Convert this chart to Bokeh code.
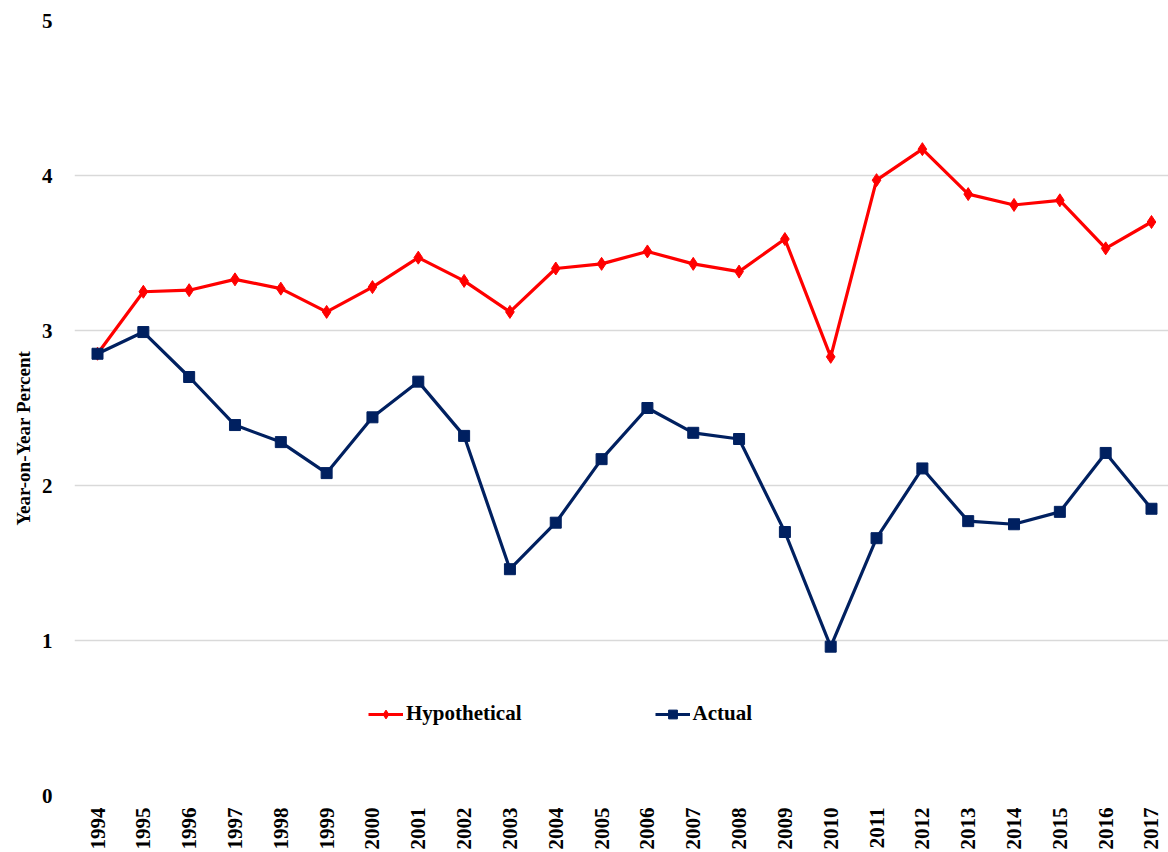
import math
from bokeh.plotting import figure
from bokeh.models import (ColumnDataSource, FixedTicker, Legend, LegendItem,
                          Range1d, Title)
from bokeh.embed import file_html
from bokeh.resources import INLINE

years = list(range(1994, 2018))
hypothetical = [2.85, 3.25, 3.26, 3.33, 3.27, 3.12, 3.28, 3.47, 3.32, 3.12,
                3.40, 3.43, 3.51, 3.43, 3.38, 3.59, 2.83, 3.97, 4.17, 3.88,
                3.81, 3.84, 3.53, 3.70]
actual = [2.85, 2.99, 2.70, 2.39, 2.28, 2.08, 2.44, 2.67, 2.32, 1.46,
          1.76, 2.17, 2.50, 2.34, 2.30, 1.70, 0.96, 1.66, 2.11, 1.77,
          1.75, 1.83, 2.21, 1.85]
y_ticks = [0, 1, 2, 3, 4, 5]
series_names = ["Hypothetical", "Actual"]
y_title = "Year-on-Year Percent"

RED = "#FF0000"
NAVY = "#002060"
FONT = "Liberation Serif"

src = ColumnDataSource(dict(x=years, h=hypothetical, a=actual))

p = figure(width=1168, height=852, output_backend="svg", toolbar_location=None,
           x_range=Range1d(1993.498, 2017.371), y_range=Range1d(0, 5),
           min_border_left=74, min_border_right=0, min_border_top=20,
           min_border_bottom=54, outline_line_color=None)

rh_line = p.line("x", "h", source=src, line_color=RED, line_width=3.2)
rh_mark = p.scatter("x", "h", source=src, marker="diamond", size=13,
                    fill_color=RED, line_color=RED)
ra_line = p.line("x", "a", source=src, line_color=NAVY, line_width=3.2)
ra_mark = p.scatter("x", "a", source=src, marker="square", size=11,
                    fill_color=NAVY, line_color=NAVY)

# axes
p.xaxis.ticker = FixedTicker(ticks=years)
p.xaxis.major_label_orientation = math.pi / 2
p.yaxis.ticker = FixedTicker(ticks=y_ticks)
for ax in (p.xaxis[0], p.yaxis[0]):
    ax.axis_line_color = None
    ax.major_tick_line_color = None
    ax.minor_tick_line_color = None
    ax.major_tick_out = 0
    ax.major_tick_in = 0
    ax.major_label_text_font = FONT
    ax.major_label_text_font_style = "bold"
    ax.major_label_text_font_size = "21px"
    ax.major_label_text_color = "black"
p.xaxis.major_label_standoff = 12
p.yaxis.major_label_standoff = 22

p.xgrid.grid_line_color = None
p.ygrid.grid_line_color = "#D9D9D9"
p.ygrid.grid_line_width = 1.3

title = Title(text=y_title, align="left", offset=270, standoff=10,
              text_font=FONT, text_font_style="bold",
              text_font_size="19px", text_color="black")
p.add_layout(title, "left")

legend = Legend(items=[LegendItem(label=series_names[0], renderers=[rh_line, rh_mark]),
                       LegendItem(label=series_names[1], renderers=[ra_line, ra_mark])],
                orientation="horizontal", location=(294, 69),
                background_fill_alpha=0, border_line_color=None,
                spacing=133, padding=0, margin=0, glyph_width=35,
                glyph_height=22, label_standoff=3,
                label_text_font=FONT, label_text_font_style="bold",
                label_text_font_size="21px", label_text_color="black")
p.add_layout(legend)

open("out.html", "w").write(file_html(p, INLINE))
